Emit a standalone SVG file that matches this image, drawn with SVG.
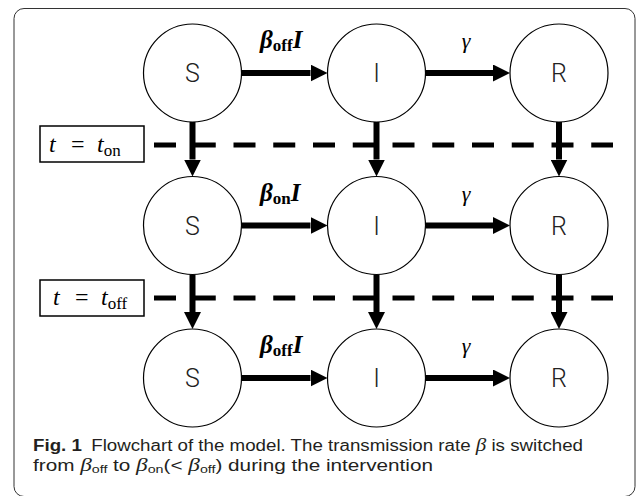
<svg xmlns="http://www.w3.org/2000/svg" width="636" height="496" viewBox="0 0 636 496">
<style>
.node{fill:#fff;stroke:#000;stroke-width:1.2}
.nl{font-family:Roboto,"Liberation Sans",sans-serif;font-weight:300;font-size:25px;fill:#222;text-anchor:middle}
.arr{stroke:#000;stroke-width:6;fill:none}
.dash{stroke:#000;stroke-width:5;fill:none;stroke-dasharray:22 17.75}
.math{font-family:"Liberation Serif",serif;fill:#000}
.box{fill:#fff;stroke:#000;stroke-width:1.5}
.cap{font-family:"Liberation Sans",sans-serif;font-size:16px;fill:#231f20}
.gb{font-family:"Liberation Serif",serif;font-style:italic;font-size:18px}
</style>
<defs>
<marker id="ah" markerUnits="userSpaceOnUse" markerWidth="17" markerHeight="17" refX="0" refY="8.5" orient="auto">
<path d="M0,0 L17,8.5 L0,17 z" fill="#000"/>
</marker>
</defs>
<rect x="14" y="8.5" width="621" height="488" rx="10" fill="none" stroke="#333" stroke-width="1"/>
<g id="dashes">
<path class="dash" d="M154,145 H613"/>
<path class="dash" d="M154,298 H613"/>
</g>
<g id="connectors">
<path class="arr" d="M241.5,73 H310.5" marker-end="url(#ah)"/>
<path class="arr" d="M425.5,73 H493" marker-end="url(#ah)"/>
<path class="arr" d="M241.5,225.5 H310.5" marker-end="url(#ah)"/>
<path class="arr" d="M425.5,225.5 H493" marker-end="url(#ah)"/>
<path class="arr" d="M241.5,378 H310.5" marker-end="url(#ah)"/>
<path class="arr" d="M425.5,378 H493" marker-end="url(#ah)"/>
<path class="arr" d="M192.5,122 V159.5" marker-end="url(#ah)"/>
<path class="arr" d="M376.5,122 V159.5" marker-end="url(#ah)"/>
<path class="arr" d="M559,122 V159.5" marker-end="url(#ah)"/>
<path class="arr" d="M192.5,274.5 V312" marker-end="url(#ah)"/>
<path class="arr" d="M376.5,274.5 V312" marker-end="url(#ah)"/>
<path class="arr" d="M559,274.5 V312" marker-end="url(#ah)"/>
<text class="math" x="260" y="48" font-size="25" font-weight="bold" font-style="italic">β<tspan font-style="normal" font-size="17" dy="3">off</tspan><tspan dy="-3">I</tspan></text>
<text class="math" x="466" y="48" font-size="22" font-style="italic" text-anchor="middle">γ</text>
<text class="math" x="260" y="200.5" font-size="25" font-weight="bold" font-style="italic">β<tspan font-style="normal" font-size="17" dy="3">on</tspan><tspan dy="-3">I</tspan></text>
<text class="math" x="466" y="200.5" font-size="22" font-style="italic" text-anchor="middle">γ</text>
<text class="math" x="260" y="353" font-size="25" font-weight="bold" font-style="italic">β<tspan font-style="normal" font-size="17" dy="3">off</tspan><tspan dy="-3">I</tspan></text>
<text class="math" x="466" y="353" font-size="22" font-style="italic" text-anchor="middle">γ</text>
</g>
<g id="box-ton">
<rect class="box" x="40" y="126" width="104" height="36"/>
<text class="math" y="152" font-size="24"><tspan x="49" font-style="italic">t</tspan><tspan x="71">=</tspan><tspan x="97" font-style="italic">t</tspan><tspan font-size="17" dy="4">on</tspan></text>
</g>
<g id="box-toff">
<rect class="box" x="40" y="280" width="104" height="36"/>
<text class="math" y="305" font-size="24"><tspan x="53" font-style="italic">t</tspan><tspan x="75">=</tspan><tspan x="101" font-style="italic">t</tspan><tspan font-size="17" dy="4">off</tspan></text>
</g>
<g id="S1"><circle class="node" cx="192.5" cy="73" r="49"/><text class="nl" x="192.5" y="82">S</text></g>
<g id="I1"><circle class="node" cx="376.5" cy="73" r="49"/><text class="nl" x="376.5" y="82">I</text></g>
<g id="R1"><circle class="node" cx="559" cy="73" r="49"/><text class="nl" x="559" y="82">R</text></g>
<g id="S2"><circle class="node" cx="192.5" cy="225.5" r="49"/><text class="nl" x="192.5" y="234.5">S</text></g>
<g id="I2"><circle class="node" cx="376.5" cy="225.5" r="49"/><text class="nl" x="376.5" y="234.5">I</text></g>
<g id="R2"><circle class="node" cx="559" cy="225.5" r="49"/><text class="nl" x="559" y="234.5">R</text></g>
<g id="S3"><circle class="node" cx="192.5" cy="378" r="49"/><text class="nl" x="192.5" y="387">S</text></g>
<g id="I3"><circle class="node" cx="376.5" cy="378" r="49"/><text class="nl" x="376.5" y="387">I</text></g>
<g id="R3"><circle class="node" cx="559" cy="378" r="49"/><text class="nl" x="559" y="387">R</text></g>
<g id="caption">
<text class="cap" x="33" y="451" textLength="550" lengthAdjust="spacingAndGlyphs"><tspan font-weight="bold">Fig. 1</tspan><tspan dx="8">Flowchart of the model. The transmission rate </tspan><tspan class="gb">β</tspan> is switched</text>
<text class="cap" x="33" y="471" textLength="400" lengthAdjust="spacingAndGlyphs">from <tspan class="gb">β</tspan><tspan font-size="11" dy="2">off</tspan><tspan dy="-2"> to </tspan><tspan class="gb">β</tspan><tspan font-size="11" dy="2">on</tspan><tspan dy="-2">(&lt; </tspan><tspan class="gb">β</tspan><tspan font-size="11" dy="2">off</tspan><tspan dy="-2">) during the intervention</tspan></text>
</g>
</svg>
